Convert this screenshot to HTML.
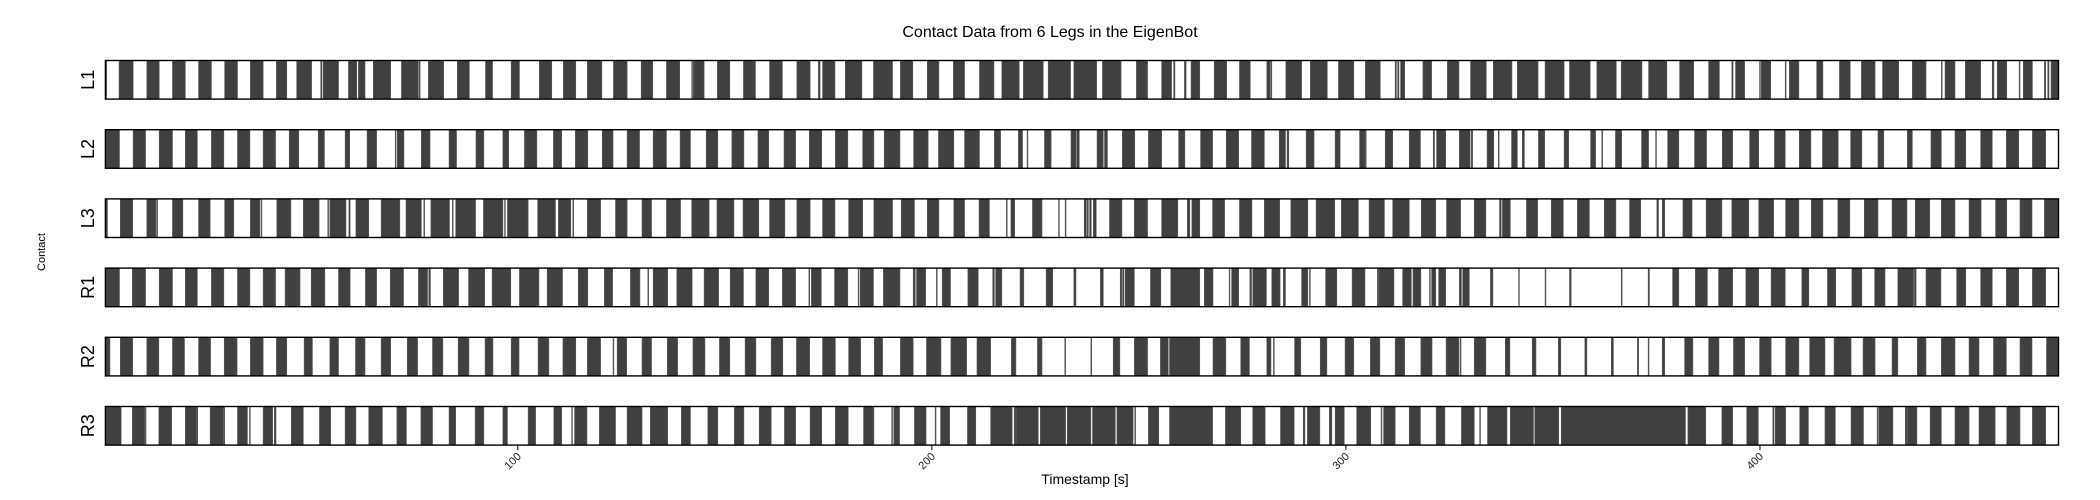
<!DOCTYPE html>
<html><head><meta charset="utf-8"><style>
html,body{margin:0;padding:0;background:#fff;}
svg{display:block;font-family:"Liberation Sans","DejaVu Sans",sans-serif;}
</style></head><body>
<svg id="chart" width="2100" height="500" viewBox="0 0 2100 500" xmlns="http://www.w3.org/2000/svg">
<text x="1050" y="37" font-size="16" text-anchor="middle" fill="#000">Contact Data from 6 Legs in the EigenBot</text>
<text x="0" y="0" font-size="11" text-anchor="middle" fill="#000" transform="translate(45,252) rotate(-90)">Contact</text>
<text x="1085" y="484" font-size="14" text-anchor="middle" fill="#000">Timestamp [s]</text>
<g id="rows"></g>
<g id="xaxis"></g>
</svg>
<script>
const legNames = ["L1","L2","L3","R1","R2","R3"];
const xTicks = [100,200,300,400];
const xDomain = [0.4, 472.1];
const L1 = [[0.4,0.7],[3.7,7.1],[10.4,13.4],[16.6,19.7],[22.9,26.0],[29.2,32.3],[35.4,38.5],[41.7,44.2],[46.6,50.2],[52.4,52.7],[53.0,56.7],[59.1,61.1],[61.5,63.1],[65.1,69.3],[71.9,76.0],[76.2,76.4],[78.4,82.1],[85.4,88.3],[92.2,93.9],[98.4,100.4],[105.2,108.2],[111.0,114.0],[116.8,120.3],[123.1,126.4],[129.8,132.6],[135.9,139.1],[142.0,142.2],[142.4,145.0],[148.2,151.2],[154.5,157.4],[160.8,163.9],[167.4,170.6],[172.6,173.0],[173.6,176.6],[179.1,183.1],[185.9,190.5],[192.4,195.4],[198.9,201.7],[205.2,207.9],[211.5,215.0],[216.9,221.1],[222.1,226.9],[228.1,233.5],[234.3,239.8],[241.2,245.7],[249.4,252.1],[255.5,257.9],[258.4,258.7],[261.0,261.4],[262.6,264.7],[268.2,271.2],[274.3,276.9],[280.9,281.7],[281.9,282.1],[285.5,289.3],[291.4,295.5],[298.2,301.9],[304.7,308.3],[311.9,312.2],[312.5,312.8],[313.2,314.2],[318.6,320.7],[324.5,327.3],[330.1,333.9],[335.6,340.1],[341.4,346.4],[348.1,352.7],[354.0,359.0],[360.6,365.3],[366.5,371.5],[373.1,377.5],[380.6,384.0],[387.6,390.2],[393.2,393.5],[394.1,396.3],[399.9,400.1],[400.3,402.6],[406.1,406.3],[407.1,409.4],[413.7,415.2],[419.2,421.8],[424.5,427.8],[429.6,433.5],[436.8,440.1],[443.8,444.0],[444.7,447.1],[449.6,453.3],[456.1,456.5],[457.3,459.6],[462.6,462.8],[463.6,465.8],[468.7,469.0],[469.5,469.8],[470.3,472.1]];
const L2 = [[0.4,3.8],[7.1,10.1],[13.4,16.6],[19.7,22.6],[26.0,29.0],[32.3,35.3],[38.5,41.5],[44.8,47.1],[51.8,53.3],[58.3,59.4],[63.6,65.9],[70.4,70.6],[70.9,72.5],[76.7,78.8],[83.4,85.2],[89.9,91.8],[96.4,97.8],[101.6,104.6],[108.6,110.6],[113.9,116.9],[120.4,123.0],[126.4,129.4],[132.7,135.9],[139.2,141.7],[145.5,148.3],[151.7,154.6],[158.0,160.6],[164.3,167.1],[170.4,173.4],[176.7,179.7],[183.3,186.0],[188.5,192.3],[195.6,199.1],[201.6,205.3],[207.9,211.5],[215.1,216.6],[220.9,221.9],[223.0,223.2],[227.2,228.8],[233.6,234.8],[235.0,235.6],[239.9,241.4],[241.7,242.4],[246.0,249.0],[252.3,255.5],[259.6,261.1],[264.9,267.8],[271.1,274.1],[277.2,280.3],[283.9,285.4],[285.8,286.2],[290.4,292.3],[297.4,298.6],[303.3,304.6],[304.7,304.9],[309.5,311.3],[315.3,318.0],[321.1,321.4],[321.9,324.1],[327.4,330.0],[330.3,330.6],[334.1,335.7],[336.8,337.0],[340.0,341.4],[342.6,343.1],[346.5,348.0],[352.7,353.8],[359.1,360.3],[361.8,362.0],[365.1,366.6],[371.4,373.1],[374.8,375.0],[377.7,380.4],[384.2,387.1],[390.9,393.4],[397.5,399.7],[403.5,406.1],[409.5,412.3],[415.1,418.9],[421.9,424.6],[428.5,429.9],[435.6,436.8],[441.3,443.8],[447.1,449.7],[453.3,456.1],[459.5,462.5],[465.8,469.0]];
const L3 = [[0.4,0.9],[4.0,7.0],[10.4,12.6],[12.8,13.0],[16.6,19.1],[22.9,25.7],[29.2,31.4],[35.4,37.7],[38.0,38.2],[41.8,45.2],[48.2,52.0],[54.1,54.3],[54.6,58.5],[59.2,59.5],[60.9,64.0],[67.0,71.5],[73.0,76.7],[77.3,77.5],[79.0,83.5],[84.2,84.4],[85.0,89.8],[91.7,96.4],[96.8,97.0],[97.5,102.5],[104.8,109.1],[109.8,112.8],[113.3,113.5],[116.8,120.0],[123.6,126.4],[130.0,132.3],[135.9,139.3],[142.0,146.2],[148.1,152.2],[154.4,158.2],[160.8,164.5],[167.4,170.6],[173.6,176.6],[179.9,183.3],[186.0,190.5],[192.6,195.8],[198.9,201.7],[205.3,207.9],[211.4,213.9],[218.0,218.2],[219.1,220.0],[224.3,226.6],[230.6,230.8],[232.2,232.4],[236.8,237.3],[237.5,237.8],[238.1,238.5],[239.0,239.7],[242.9,245.9],[248.9,252.1],[255.5,259.4],[261.7,262.3],[262.8,264.7],[267.8,270.7],[274.3,277.3],[280.3,284.0],[286.7,290.8],[292.8,297.3],[298.9,303.0],[305.6,309.3],[311.3,315.3],[318.2,321.7],[324.3,327.7],[331.0,333.8],[337.1,337.5],[337.8,339.7],[343.6,346.3],[349.6,352.5],[355.9,358.8],[362.4,365.2],[368.5,371.2],[375.1,375.5],[376.4,377.0],[381.4,383.6],[387.0,390.8],[393.2,397.3],[399.7,403.3],[406.2,409.4],[412.4,415.2],[418.8,421.7],[425.2,428.5],[431.9,435.5],[437.5,441.0],[443.8,447.1],[450.5,453.4],[456.9,459.6],[462.8,465.7],[468.7,472.1]];
const R1 = [[0.4,3.8],[6.9,10.1],[13.4,16.6],[19.7,22.6],[26.0,29.0],[32.3,35.3],[38.5,41.5],[43.8,47.4],[50.1,53.4],[56.7,59.5],[63.2,65.9],[69.2,72.4],[76.0,78.2],[78.5,78.9],[82.0,85.7],[88.1,92.0],[93.8,98.3],[100.4,105.1],[107.1,110.8],[114.6,116.9],[120.9,122.9],[127.2,129.5],[131.4,131.6],[132.7,136.2],[138.4,142.1],[145.0,148.5],[151.3,154.5],[157.5,160.6],[163.9,167.1],[170.3,170.5],[170.9,173.3],[176.5,179.7],[182.2,182.4],[182.7,185.9],[188.3,192.3],[195.5,196.0],[196.3,198.5],[201.1,201.3],[202.5,204.5],[208.7,211.2],[214.7,215.1],[215.4,216.9],[221.3,222.2],[227.6,229.2],[234.3,234.8],[240.7,241.4],[245.5,245.9],[246.1,246.4],[246.7,248.9],[252.8,255.3],[257.7,264.7],[265.8,267.9],[271.8,272.0],[272.4,274.1],[276.8,277.2],[277.5,280.8],[282.1,284.1],[284.9,285.4],[289.3,290.8],[291.2,291.4],[295.1,297.8],[301.5,304.6],[307.6,307.9],[308.0,311.6],[313.7,315.8],[316.2,318.1],[320.2,320.4],[320.7,321.7],[322.4,324.1],[327.4,327.9],[328.2,329.8],[334.9,335.5],[341.7,341.9],[348.1,348.3],[354.0,354.4],[366.5,366.7],[373.0,373.3],[378.9,380.4],[384.4,387.3],[390.0,393.4],[396.6,399.7],[402.7,406.1],[410.1,411.8],[416.3,418.3],[422.2,424.6],[427.7,430.2],[433.3,437.1],[437.3,437.7],[440.1,443.7],[447.5,449.7],[453.3,456.1],[459.5,462.5],[465.8,469.0]];
const R2 = [[0.4,1.5],[4.0,7.0],[10.4,13.3],[16.6,19.5],[22.9,25.8],[29.1,32.2],[35.4,38.5],[41.7,44.2],[48.4,50.4],[54.6,56.7],[60.8,63.1],[67.0,69.3],[73.3,75.8],[79.4,81.9],[85.6,88.2],[92.1,94.0],[98.4,100.3],[104.9,107.5],[110.9,114.0],[116.8,120.0],[123.0,123.2],[124.0,126.3],[130.0,132.3],[136.1,138.6],[142.3,145.2],[148.7,151.2],[154.9,157.5],[161.2,164.0],[167.3,170.5],[173.6,176.7],[179.9,182.8],[186.1,188.1],[192.4,195.5],[198.7,202.2],[204.6,208.4],[210.9,214.2],[219.2,220.3],[225.5,226.6],[232.1,232.3],[238.4,238.6],[243.8,245.4],[248.9,252.1],[255.2,257.1],[257.4,264.7],[267.9,271.0],[274.6,276.7],[280.9,281.9],[282.5,282.7],[287.6,289.1],[293.8,295.4],[299.8,301.9],[305.9,308.2],[311.9,314.2],[318.1,320.8],[324.2,327.3],[327.6,327.8],[331.0,333.8],[338.5,339.6],[345.0,345.9],[351.3,351.9],[357.7,358.2],[364.1,364.6],[370.4,370.7],[373.0,373.2],[376.4,377.0],[381.8,383.8],[387.6,390.1],[393.6,396.3],[399.9,402.7],[406.2,409.4],[412.0,415.7],[417.9,422.0],[424.9,427.8],[431.9,433.3],[438.0,440.1],[443.8,447.1],[450.5,452.9],[456.4,459.5],[462.8,465.7],[469.2,472.1]];
const R3 = [[0.4,4.2],[6.9,9.9],[10.0,10.2],[13.3,16.4],[19.7,22.4],[22.5,22.7],[25.7,28.9],[29.0,29.2],[32.3,34.7],[35.2,35.4],[38.5,40.8],[41.2,41.6],[45.3,48.2],[52.1,54.8],[58.3,60.9],[64.0,67.3],[70.8,73.1],[76.6,79.4],[83.4,85.0],[89.7,91.8],[96.4,97.5],[102.5,104.3],[108.7,110.6],[113.0,113.2],[113.7,116.7],[119.7,123.6],[126.4,130.0],[132.0,136.2],[139.5,141.7],[145.9,148.3],[152.3,154.6],[158.3,161.2],[164.4,167.1],[170.6,173.4],[176.7,179.8],[183.5,186.0],[190.3,190.5],[190.8,192.2],[195.8,198.6],[200.8,201.0],[202.1,204.3],[208.6,210.6],[214.2,219.4],[219.9,220.3],[220.4,225.7],[226.2,232.3],[232.7,238.4],[238.8,244.3],[244.7,248.6],[249.0,249.2],[252.3,254.8],[257.4,267.8],[270.9,274.6],[277.5,280.5],[284.2,287.5],[289.7,290.1],[290.7,293.7],[296.0,296.6],[297.4,299.6],[302.6,306.0],[308.5,308.7],[309.1,311.9],[315.3,318.0],[321.8,323.9],[327.9,331.0],[332.3,332.5],[334.2,338.9],[339.7,345.3],[345.6,351.4],[352.0,382.0],[382.6,386.9],[390.8,393.4],[396.8,399.6],[403.1,403.4],[403.7,406.2],[409.6,411.7],[415.7,418.2],[422.0,425.0],[428.3,428.5],[428.7,432.1],[435.1,435.5],[435.6,437.9],[441.1,443.8],[447.1,450.5],[452.9,456.8],[459.6,462.8],[465.8,469.0]];
const legData = [L1, L2, L3, R1, R2, R3];

const NS = "http://www.w3.org/2000/svg";
const plotLeft = 105.4, plotRight = 2058.5;
const rowTop0 = 60.5, rowStep = 69.2, rowH = 38.6;
function xScale(t){ return plotLeft + (t - xDomain[0]) / (xDomain[1] - xDomain[0]) * (plotRight - plotLeft); }
function rowY(i){ return rowTop0 + i * rowStep; }

const rowsG = document.getElementById('rows');
legNames.forEach(function(name, i){
  const g = document.createElementNS(NS, 'g');
  
  
  const y = rowY(i);
  legData[i].forEach(function(seg, j){
    const r = document.createElementNS(NS, 'rect');
    
    
    const x0 = xScale(seg[0]), x1 = xScale(seg[1]);
    r.setAttribute('x', x0);
    r.setAttribute('y', y);
    r.setAttribute('width', Math.max(0.8, x1 - x0));
    r.setAttribute('height', rowH);
    r.setAttribute('fill', '#404040');
    r.setAttribute('stroke', '#5a5a5a');
    r.setAttribute('stroke-width', '0.6');
    g.appendChild(r);
  });
  const frame = document.createElementNS(NS, 'rect');
  
  
  frame.setAttribute('x', plotLeft);
  frame.setAttribute('y', y);
  frame.setAttribute('width', plotRight - plotLeft);
  frame.setAttribute('height', rowH);
  frame.setAttribute('fill', 'none');
  frame.setAttribute('stroke', '#000');
  frame.setAttribute('stroke-width', '1.4');
  g.appendChild(frame);
  const lab = document.createElementNS(NS, 'text');
  
  
  lab.setAttribute('font-size', '18');
  lab.setAttribute('text-anchor', 'middle');
  lab.setAttribute('transform', 'translate(94,' + (y + rowH/2) + ') rotate(-90)');
  lab.textContent = name;
  g.appendChild(lab);
  rowsG.appendChild(g);
});

const axG = document.getElementById('xaxis');
const axisY = rowY(5) + rowH;
xTicks.forEach(function(t){
  const x = xScale(t);
  const tk = document.createElementNS(NS, 'line');
  
  
  tk.setAttribute('x1', x); tk.setAttribute('x2', x);
  tk.setAttribute('y1', axisY); tk.setAttribute('y2', axisY + 5);
  tk.setAttribute('stroke', '#000'); tk.setAttribute('stroke-width', '1');
  axG.appendChild(tk);
  const tl = document.createElementNS(NS, 'text');
  
  
  tl.setAttribute('font-size', '11');
  tl.setAttribute('text-anchor', 'end');
  tl.setAttribute('fill', '#222');
  tl.setAttribute('transform', 'translate(' + (x + 4) + ',' + (axisY + 12) + ') rotate(-45)');
  tl.textContent = t;
  axG.appendChild(tl);
});
</script>
</body></html>
